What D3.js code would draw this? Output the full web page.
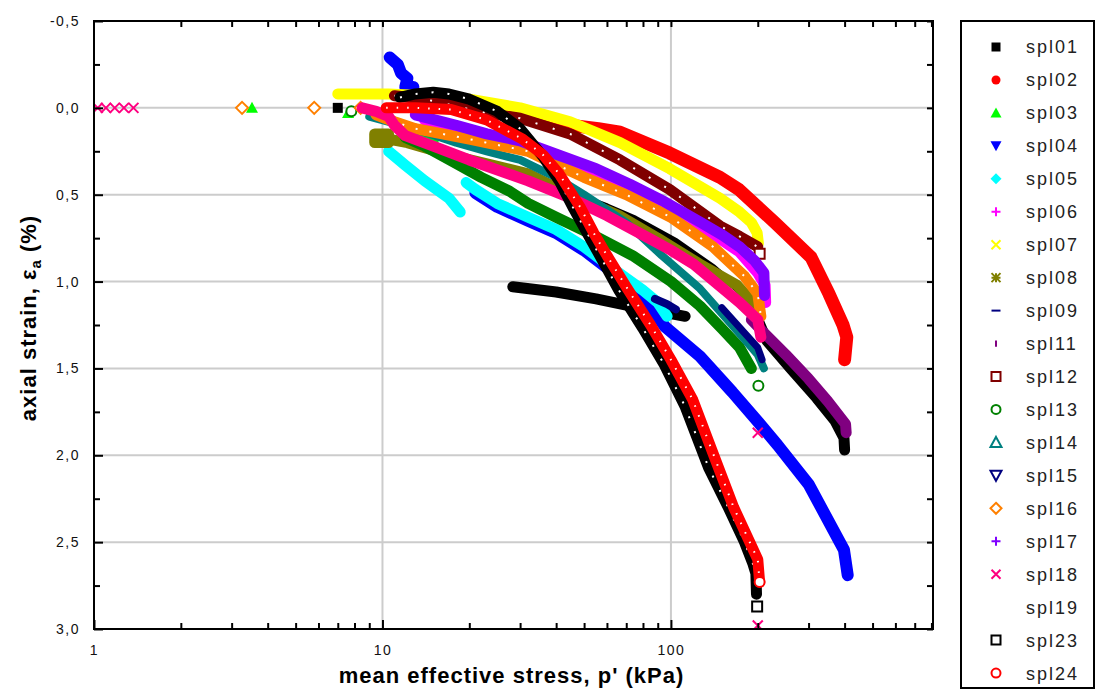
<!DOCTYPE html>
<html>
<head>
<meta charset="utf-8">
<script src="https://cdnjs.cloudflare.com/ajax/libs/d3/7.8.5/d3.min.js"></script>
<style>
  body { margin: 0; background: #fff; }
  svg { display: block; font-family: Arial, "Liberation Sans", sans-serif; }
</style>
</head>
<body>
<div id="chart-area"></div>
<script>
// p' (kPa), axial strain (%) -- each series is a list of segments,
// a segment with one point is a lone marker, longer ones are dense bands
const spl01 = [
  [[7.0, 0.0]],
  [[12.2, 0.2], [17, 0.27], [24, 0.33], [32, 0.38], [44.7, 0.49], [60, 0.57], [75, 0.64], [104, 0.77],
   [140, 0.92], [175, 1.06], [200, 1.2]],
  [[200, 1.22], [215, 1.34], [260, 1.5], [320, 1.67], [370, 1.8], [398, 1.9], [400, 1.97]],
  [[28.3, 1.03], [40, 1.06], [55, 1.1], [72, 1.14], [90, 1.17], [112, 1.2]]
];
const spl02 = [
  [[20, 0.0], [30, 0.04], [44.7, 0.1], [56, 0.12], [66.6, 0.14], [99, 0.26], [148, 0.4], [172, 0.47],
   [229, 0.66], [306, 0.86], [353, 1.07], [395, 1.25], [407, 1.32], [400, 1.45]]
];
const spl03 = [
  [[3.53, 0.0]], [[7.6, 0.03]],
  [[12.5, 0.15], [15, 0.19]]
];
const spl04 = [
  [[10.6, -0.29], [11.3, -0.25], [11.6, -0.2], [12.2, -0.17], [12.0, -0.12], [12.8, -0.12]],
  [[21, 0.49], [25, 0.57], [32, 0.65], [40, 0.72], [50, 0.82], [60, 0.92], [70, 1.0], [80, 1.08],
   [95.4, 1.26], [126, 1.43], [163, 1.635], [201, 1.81], [234, 1.94], [301, 2.17], [398, 2.545], [410, 2.69]]
];
const spl05 = [
  [[10.5, 0.25], [12, 0.33], [14, 0.42], [17, 0.52], [18.6, 0.6]],
  [[19.5, 0.43], [21, 0.47], [25, 0.55], [32, 0.63], [40, 0.7], [50, 0.8], [60, 0.9], [70, 0.98],
   [80, 1.05], [90, 1.12], [97, 1.2]]
];
const spl06 = [
  [[14, 0.07], [20, 0.13], [30, 0.21], [45, 0.32], [72, 0.47], [100, 0.58], [127, 0.68], [173, 0.83],
   [200, 0.95], [212, 1.02], [213, 1.12]]
];
const spl07 = [
  [[7.0, -0.08], [10.5, -0.08], [14, -0.07], [20, -0.05], [30, 0.0], [44.7, 0.08], [66.6, 0.2],
   [99, 0.35], [148, 0.52], [173, 0.6], [190, 0.66], [199, 0.72], [201, 0.78]]
];
const spl08 = [
  [[9.4, 0.15], [10.5, 0.15], [10.5, 0.2], [9.4, 0.2], [9.4, 0.15]],
  [[10.5, 0.18], [12.2, 0.2], [17, 0.27], [24, 0.33], [32, 0.38], [44.7, 0.5], [66, 0.62], [90, 0.75],
   [126, 0.9], [169, 1.02], [200, 1.15]]
];
const spl09 = [
  [[88, 1.1], [97, 1.13], [104, 1.16]]
];
const spl11 = [
  [[190, 1.22], [206, 1.28], [250, 1.42], [300, 1.56], [350, 1.69], [403, 1.82], [405, 1.87]]
];
const spl12 = [
  [[11, -0.07], [14, -0.05], [18, -0.01], [23, 0.03], [30, 0.06], [44.7, 0.15], [66.6, 0.3], [99, 0.47],
   [148, 0.68], [173, 0.74], [200, 0.8]],
  [[203, 0.84]]
];
const spl13 = [
  [[7.8, 0.02]],
  [[12, 0.17], [14, 0.22], [18, 0.32], [22, 0.4], [27.6, 0.48], [32, 0.55], [40, 0.63], [52, 0.72],
   [73.6, 0.85], [100, 1.0], [126, 1.14], [150, 1.27], [173, 1.38], [190, 1.5]],
  [[201, 1.6]]
];
const spl14 = [
  [[9, 0.05], [11, 0.09], [14, 0.14], [18, 0.2], [23, 0.25], [30, 0.3], [40, 0.4], [50, 0.5],
   [70, 0.66], [93, 0.85], [126, 1.04], [173, 1.3], [200, 1.42], [210, 1.5]]
];
const spl15 = [
  [[150, 1.15], [200, 1.38], [207, 1.45]]
];
const spl16 = [
  [[3.26, 0.0]], [[5.8, 0.0]], [[8.4, 0.0]],
  [[9.5, 0.04], [11, 0.08], [13, 0.12], [20, 0.18], [32, 0.25], [37, 0.3], [50, 0.4], [70, 0.5],
   [100, 0.63], [140, 0.8], [180, 0.97], [200, 1.07], [205, 1.2]]
];
const spl17 = [
  [[13, 0.04], [18, 0.1], [23, 0.15], [30, 0.19], [40.5, 0.27], [55, 0.35], [72, 0.44], [95, 0.54],
   [127, 0.66], [150, 0.73], [173, 0.8], [195, 0.88], [210, 0.95], [211, 1.08]]
];
const spl18 = [
  [[1.03, 0.0]], [[1.1, 0.0]], [[1.18, 0.0]], [[1.27, 0.0]], [[1.37, 0.0]],
  [[8.5, 0.0], [9.5, 0.02], [10.5, 0.05], [11, 0.1], [12, 0.16], [15, 0.22], [20, 0.3], [32, 0.42],
   [45, 0.52], [60, 0.62], [86, 0.76], [100, 0.82], [120, 0.9], [173, 1.12], [200, 1.22], [205, 1.32]],
  [[200, 1.87]], [[200, 2.98]]
];
const spl19 = [];
const spl23 = [
  [[11.5, -0.06], [13, -0.08], [15, -0.09], [17, -0.08], [20, -0.05], [25, 0.02], [30, 0.12], [36, 0.28],
   [41, 0.42], [46, 0.58], [52, 0.74], [58, 0.88], [66, 1.05], [80, 1.27], [95, 1.48], [112, 1.72],
   [135, 2.07], [158, 2.3], [180, 2.5], [192, 2.62], [197, 2.68], [198, 2.8]],
  [[199, 2.87]]
];
const spl24 = [
  [[10.3, 0.0], [13, 0.0], [17.3, 0.01], [23, 0.07], [30.6, 0.18], [36, 0.27], [41, 0.38], [48.4, 0.57],
   [54, 0.72], [60, 0.85], [70, 1.03], [85, 1.25], [100, 1.45], [119, 1.68], [143, 2.03], [165, 2.3],
   [190, 2.52], [200, 2.6], [203, 2.73]],
  [[203, 2.73]]
];

const seriesNames = ["spl01", "spl02", "spl03", "spl04", "spl05", "spl06", "spl07", "spl08", "spl09", "spl11",
                     "spl12", "spl13", "spl14", "spl15", "spl16", "spl17", "spl18", "spl19", "spl23", "spl24"];
const seriesData = [spl01, spl02, spl03, spl04, spl05, spl06, spl07, spl08, spl09, spl11,
                    spl12, spl13, spl14, spl15, spl16, spl17, spl18, spl19, spl23, spl24];
const seriesColors = ["#000000", "#ff0000", "#00ff00", "#0000ff", "#00ffff", "#ff00ff", "#ffff00", "#808000",
                      "#000080", "#800080", "#800000", "#008000", "#008080", "#000080", "#ff8000", "#8000ff",
                      "#ff0080", "#ffffff", "#000000", "#ff0000"];
const seriesSymbols = ["square", "circle", "triUp", "triDown", "diamond", "plus", "times", "asterisk",
                       "hdash", "vdash", "oSquare", "oCircle", "oTriUp", "oTriDown", "oDiamond", "plus",
                       "times", "none", "oSquare", "oCircle"];

const yTickValues = [-0.5, 0, 0.5, 1, 1.5, 2, 2.5, 3];
const yTickLabels = ["-0,5", "0,0", "0,5", "1,0", "1,5", "2,0", "2,5", "3,0"];
const xTickValues = [1, 10, 100];
const xTickLabels = ["1", "10", "100"];

// canvas
const svgWidth = 1096, svgHeight = 690;
const plotLeft = 94, plotRight = 933, plotTop = 21, plotBottom = 629;

const svg = d3.select("#chart-area").append("svg")
    .attr("width", svgWidth)
    .attr("height", svgHeight);

// scales
const xScale = d3.scaleLog().domain([1, 810]).range([plotLeft, plotRight]);
const yScale = d3.scaleLinear().domain([-0.5, 3.0]).range([plotTop, plotBottom]);

const xMinor = [];
[1, 10, 100].forEach(function(d){
    for (let k = 2; k <= 9; k++) { if (d * k <= 810) xMinor.push(d * k); }
});
const yMinor = d3.range(-0.25, 3.0, 0.5);

// grid
svg.append("g").selectAll("line")
    .data(yTickValues.slice(1, -1))
    .enter().append("line")
    .attr("x1", plotLeft).attr("x2", plotRight)
    .attr("y1", d => yScale(d)).attr("y2", d => yScale(d))
    .attr("stroke", "#cccccc").attr("stroke-width", 2);
svg.append("g").selectAll("line")
    .data([10, 100])
    .enter().append("line")
    .attr("x1", d => xScale(d)).attr("x2", d => xScale(d))
    .attr("y1", plotTop).attr("y2", plotBottom)
    .attr("stroke", "#cccccc").attr("stroke-width", 2);

// data
svg.append("clipPath").attr("id", "clip")
  .append("rect")
    .attr("x", plotLeft).attr("y", plotTop)
    .attr("width", plotRight - plotLeft).attr("height", plotBottom - plotTop);

const plot = svg.append("g").attr("clip-path", "url(#clip)");

const line = d3.line()
    .x(d => xScale(d[0]))
    .y(d => yScale(d[1]));

const bandWidth = { spl02: 13, spl04: 12, spl14: 8, spl09: 8, spl15: 7 };
const dotted = { spl12: "2,16", spl16: "2,12", spl23: "2,14", spl24: "1.5,9" };

function symbolPath(sym, s) {
    const h = s / 2;
    switch (sym) {
        case "square": case "oSquare":
            return "M" + (-h) + "," + (-h) + "h" + s + "v" + s + "h" + (-s) + "Z";
        case "circle": case "oCircle":
            return d3.arc()({innerRadius: 0, outerRadius: h, startAngle: 0, endAngle: 2 * Math.PI});
        case "triUp": case "oTriUp":
            return "M0," + (-h - 1) + "L" + (h + 1) + "," + h + "L" + (-h - 1) + "," + h + "Z";
        case "triDown": case "oTriDown":
            return "M0," + (h + 1) + "L" + (h + 1) + "," + (-h) + "L" + (-h - 1) + "," + (-h) + "Z";
        case "diamond": case "oDiamond":
            return "M0," + (-h - 1) + "L" + (h + 1) + ",0L0," + (h + 1) + "L" + (-h - 1) + ",0Z";
        case "plus":
            return "M" + (-h) + ",0H" + h + "M0," + (-h) + "V" + h;
        case "times":
            return "M" + (-h) + "," + (-h) + "L" + h + "," + h + "M" + (-h) + "," + h + "L" + h + "," + (-h);
        case "asterisk":
            return "M" + (-h) + "," + (-h) + "L" + h + "," + h + "M" + (-h) + "," + h + "L" + h + "," + (-h) +
                   "M0," + (-h) + "V" + h + "M" + (-h) + ",0H" + h;
        case "hdash":
            return "M" + (-h) + ",0H" + h;
        case "vdash":
            return "M0," + (-h * 0.7) + "V" + (h * 0.7);
        default:
            return "";
    }
}

function drawMarker(sel, sym, color, x, y, s) {
    const filled = ["square", "circle", "triUp", "triDown", "diamond"].indexOf(sym) >= 0;
    const open = sym.charAt(0) === "o";
    sel.append("path")
        .attr("transform", "translate(" + x + "," + y + ")")
        .attr("d", symbolPath(sym, s))
        .attr("fill", filled ? color : (open ? "#ffffff" : "none"))
        .attr("stroke", color)
        .attr("stroke-width", filled ? 0 : 2);
}

seriesData.forEach(function(segs, i){
    const name = seriesNames[i];
    const g = plot.append("g").attr("class", name);
    segs.forEach(function(seg, j){
        if (seg.length === 1) {
            drawMarker(g, seriesSymbols[i], seriesColors[i], xScale(seg[0][0]), yScale(seg[0][1]), 10);
        } else {
            // the first long black spl01 band mostly runs hidden under the olive one
            const w = (name === "spl01" && j === 1) ? 7 : (bandWidth[name] || 11);
            g.append("path")
                .attr("d", line(seg))
                .attr("fill", "none")
                .attr("stroke", seriesColors[i])
                .attr("stroke-width", w)
                .attr("stroke-linejoin", "round")
                .attr("stroke-linecap", "round");
            if (dotted[name]) {
                g.append("path")
                    .attr("d", line(seg))
                    .attr("fill", "none")
                    .attr("stroke", "#ffffff")
                    .attr("stroke-width", 2)
                    .attr("stroke-dasharray", dotted[name]);
            }
        }
    });
});

// axes
const tickFont = function(sel){
    sel.selectAll("text")
        .attr("font-size", "14px")
        .attr("letter-spacing", "1.5px")
        .attr("fill", "#111");
    sel.selectAll("line").attr("stroke", "#000").attr("stroke-width", 2);
    sel.select(".domain").remove();
};

svg.append("g")
    .attr("transform", "translate(" + plotLeft + ",0)")
    .call(d3.axisLeft(yScale).tickValues(yTickValues).tickSize(-9).tickPadding(14)
        .tickFormat((d, i) => yTickLabels[i]))
    .call(tickFont);
svg.append("g")
    .attr("transform", "translate(" + plotLeft + ",0)")
    .call(d3.axisLeft(yScale).tickValues(yMinor).tickSize(-6).tickFormat(""))
    .call(tickFont);
svg.append("g")
    .attr("transform", "translate(" + plotRight + ",0)")
    .call(d3.axisRight(yScale).tickValues(yTickValues.concat(yMinor)).tickSize(-6).tickFormat(""))
    .call(tickFont);

svg.append("g")
    .attr("transform", "translate(0," + plotBottom + ")")
    .call(d3.axisBottom(xScale).tickValues(xTickValues).tickSize(-9).tickPadding(16)
        .tickFormat((d, i) => xTickLabels[i]))
    .call(tickFont);
svg.append("g")
    .attr("transform", "translate(0," + plotBottom + ")")
    .call(d3.axisBottom(xScale).tickValues(xMinor).tickSize(-6).tickFormat(""))
    .call(tickFont);
svg.append("g")
    .attr("transform", "translate(0," + plotTop + ")")
    .call(d3.axisTop(xScale).tickValues(xMinor.concat([10, 100])).tickSize(-6).tickFormat(""))
    .call(tickFont);

// frame
svg.append("rect")
    .attr("x", plotLeft).attr("y", plotTop)
    .attr("width", plotRight - plotLeft).attr("height", plotBottom - plotTop)
    .attr("fill", "none").attr("stroke", "#000").attr("stroke-width", 2);

// axis labels
svg.append("text")
    .attr("x", (plotLeft + plotRight) / 2 - 2)
    .attr("y", 683)
    .attr("text-anchor", "middle")
    .attr("font-size", "22px")
    .attr("font-weight", "bold")
    .attr("letter-spacing", "1px")
    .text("mean effective stress, p' (kPa)");

const yLabel = svg.append("text")
    .attr("transform", "translate(36,318) rotate(-90)")
    .attr("text-anchor", "middle")
    .attr("font-size", "22px")
    .attr("font-weight", "bold")
    .attr("letter-spacing", "1px");
yLabel.append("tspan").text("axial strain, ε");
yLabel.append("tspan").attr("font-size", "15px").attr("dy", 5).text("a");
yLabel.append("tspan").attr("dy", -5).text(" (%)");

// legend
const legend = svg.append("g");
legend.append("rect")
    .attr("x", 961).attr("y", 21)
    .attr("width", 133).attr("height", 667)
    .attr("fill", "#fff").attr("stroke", "#000").attr("stroke-width", 2);

seriesNames.forEach(function(name, i){
    const ly = 47 + i * 32.95;
    drawMarker(legend, seriesSymbols[i], seriesColors[i], 996, ly, 9);
    legend.append("text")
        .attr("x", 1026).attr("y", ly)
        .attr("dy", "0.36em")
        .attr("font-size", "18px")
        .attr("letter-spacing", "2px")
        .attr("fill", "#222")
        .text(name);
});
</script>
</body>
</html>
